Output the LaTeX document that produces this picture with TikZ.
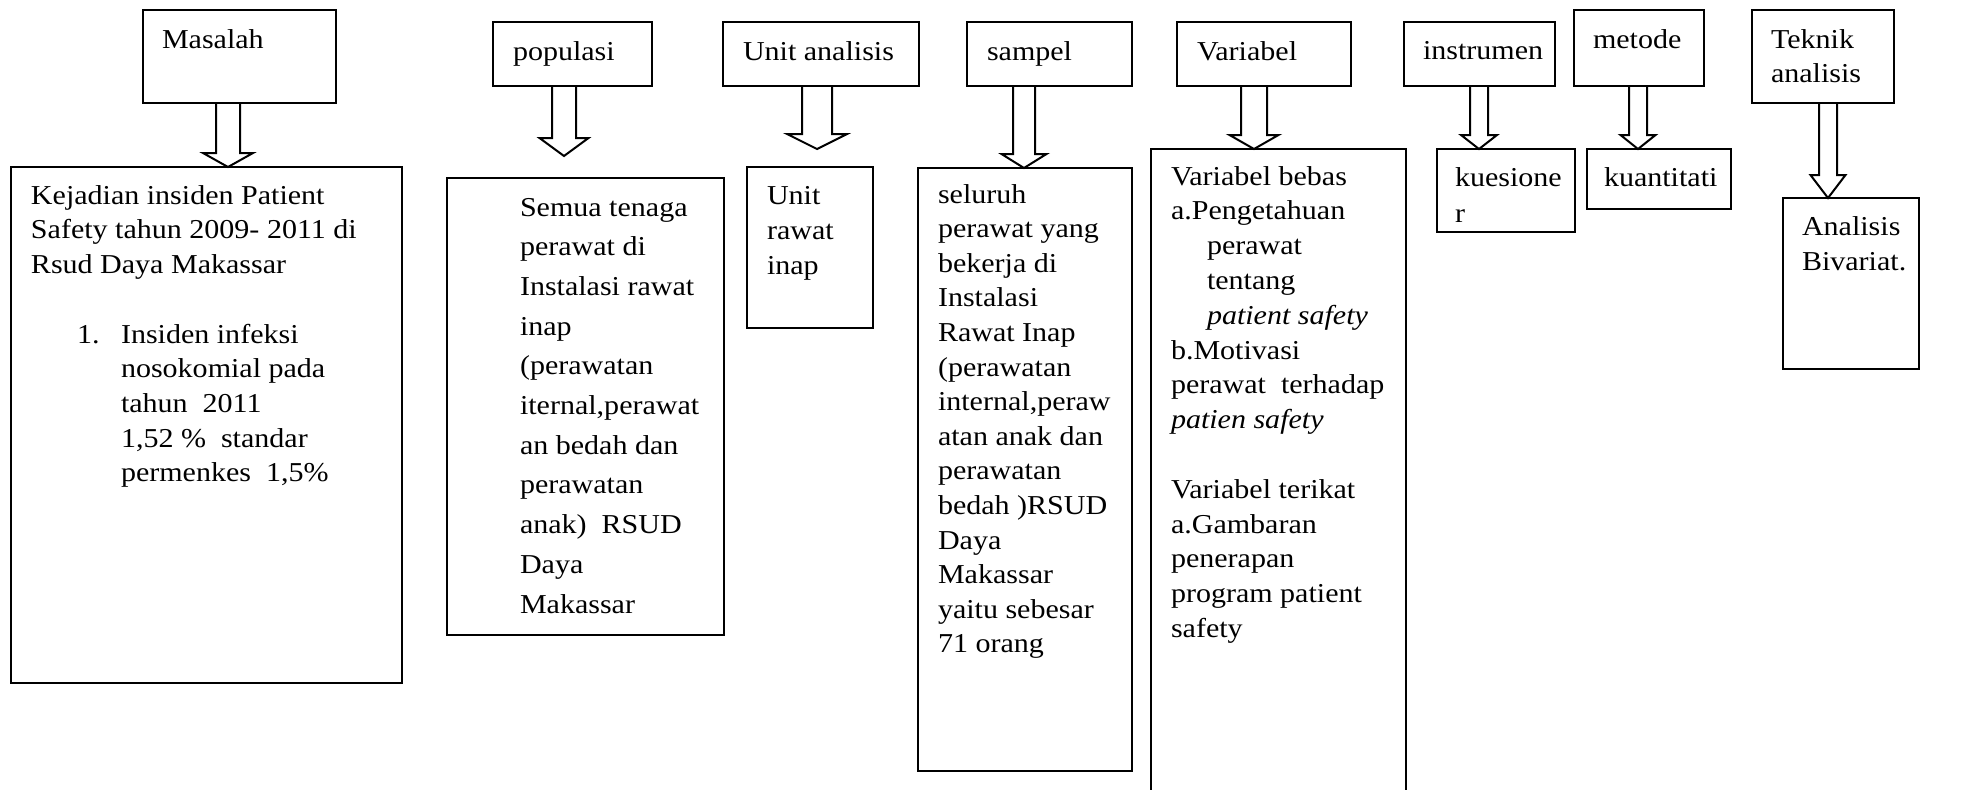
\documentclass[tikz,border=0pt]{standalone}
\usepackage{fontspec}
\setmainfont[FakeStretch=1.1]{Liberation Serif}
\usetikzlibrary{calc}
\tikzset{
  box/.style={draw=black, line width=1pt, inner sep=0pt, outer sep=0pt, anchor=north west},
  txt/.style={inner sep=0pt, outer sep=0pt, anchor=base west},
  arr/.style={draw=black, line width=1pt, line join=miter},
}
\newcommand\fs[1]{\fontsize{13.65pt}{#1}\selectfont}
\newcommand\lns[1]{\begin{tabular}[t]{@{}l@{}}#1\end{tabular}}
\newcommand\boxnode[5]{\node[box, minimum width={(#4-#2)*0.5pt}, minimum height={(#5-#3)*0.5pt}] (#1) at (#2,#3) {};}
% src, dst, x centre, shaft half width, head half width, head length, gap above dst
\newcommand\barrow[7]{%
  \pgfmathsetmacro\axl{#3-#4}\pgfmathsetmacro\axr{#3+#4}%
  \pgfmathsetmacro\ahl{#3-#5}\pgfmathsetmacro\ahr{#3+#5}%
  \pgfmathsetmacro\ahy{-(#6+#7)}\pgfmathsetmacro\aty{-(#7)}%
  \draw[arr] (\axl,0 |- #1.south) -- ($(\axl,0 |- #2.north)+(0,\ahy)$)
    -- ($(\ahl,0 |- #2.north)+(0,\ahy)$) -- ($(#3,0 |- #2.north)+(0,\aty)$)
    -- ($(\ahr,0 |- #2.north)+(0,\ahy)$) -- ($(\axr,0 |- #2.north)+(0,\ahy)$)
    -- (\axr,0 |- #1.south);}
\begin{document}
\begin{tikzpicture}[x=0.5pt,y=-0.5pt]
\useasboundingbox (0,0) rectangle (1967,789);
\clip (0,0) rectangle (1967,789);
% header boxes
\boxnode{masalah}{143}{10}{336}{103}
\boxnode{populasi}{493}{22}{652}{86}
\boxnode{unit}{723}{22}{919}{86}
\boxnode{sampel}{967}{22}{1132}{86}
\boxnode{variabel}{1177}{22}{1351}{86}
\boxnode{instrumen}{1404}{22}{1555}{86}
\boxnode{metode}{1574}{10}{1704}{86}
\boxnode{teknik}{1752}{10}{1894}{103}
% content boxes
\boxnode{kejadian}{11}{167}{402}{683}
\boxnode{popbox}{447}{178}{724}{635}
\boxnode{unitbox}{747}{167}{873}{328}
\boxnode{sampbox}{918}{168}{1132}{771}
\boxnode{varbox}{1151}{149}{1406}{810}
\boxnode{kuesbox}{1437}{149}{1575}{232}
\boxnode{kuantbox}{1587}{149}{1731}{209}
\boxnode{anabox}{1783}{198}{1919}{369}
% header texts
\node[txt, font=\fs{17pt}] (tmasalah) at (162,48) {Masalah};
\node[txt, font=\fs{17pt}] (tpopulasi) at (513,60) {populasi};
\node[txt, font=\fs{17pt}] (tunit) at (743,60) {Unit analisis};
\node[txt, font=\fs{17pt}] (tsampel) at (987,60) {sampel};
\node[txt, font=\fs{17pt}] (tvariabel) at (1197,60) {Variabel};
\node[txt, font=\fs{17pt}] (tinstrumen) at (1423,59) {instrumen};
\node[txt, font=\fs{17pt}] (tmetode) at (1593,48) {metode};
\node[txt, font=\fs{17pt}] (tteknik) at (1771,48) {\lns{Teknik\\analisis}};
% content texts
\node[txt, font=\fs{17.35pt}] (tkej) at (31,204) {\lns{Kejadian insiden Patient\\Safety tahun 2009- 2011 di\\Rsud Daya Makassar}};
\node[txt, font=\fs{17.37pt}] (tnum) at (77,343) {1.};
\node[txt, font=\fs{17.37pt}] (tlist) at (121,343) {\lns{Insiden infeksi\\nosokomial pada\\tahun\ \ 2011\\1,52 \%\ \ standar\\permenkes\ \ 1,5\%}};
\node[txt, font=\fs{19.85pt}] (tpop) at (520,216) {\lns{Semua tenaga\\perawat di\\Instalasi rawat\\inap\\(perawatan\\iternal,perawat\\an bedah dan\\perawatan\\anak)\ \ RSUD\\Daya\\Makassar}};
\node[txt, font=\fs{17.5pt}] (tunitc) at (767,204) {\lns{Unit\\rawat\\inap}};
\node[txt, font=\fs{17.3pt}] (tsamp) at (938,203) {\lns{seluruh\\perawat yang\\bekerja di\\Instalasi\\Rawat Inap\\(perawatan\\internal,peraw\\atan anak dan\\perawatan\\bedah )RSUD\\Daya\\Makassar\\yaitu sebesar\\71 orang}};
\node[txt, font=\fs{17.4pt}] (tvar) at (1171,185) {\lns{Variabel bebas\\a.Pengetahuan\\\hspace*{18pt}perawat\\\hspace*{18pt}tentang\\\hspace*{18pt}\textit{patient safety}\\b.Motivasi\\perawat\ \ terhadap\\\textit{patien safety}\\[17.4pt]Variabel terikat\\a.Gambaran\\penerapan\\program patient\\safety}};
\node[txt, font=\fs{18pt}] (tkues) at (1455,186) {\lns{kuesione\\r}};
\node[txt, font=\fs{18pt}] (tkuant) at (1604,186) {kuantitati};
\node[txt, font=\fs{17.5pt}] (tana) at (1802,235) {\lns{Analisis\\Bivariat.}};
% block arrows
\barrow{masalah}{kejadian}{228}{12}{25}{14}{0}
\barrow{populasi}{popbox}{564}{12}{24.5}{18}{22}
\barrow{unit}{unitbox}{817}{15}{30}{15}{18}
\barrow{sampel}{sampbox}{1024}{11}{22.5}{14}{0}
\barrow{variabel}{varbox}{1254}{13}{24.5}{14}{0}
\barrow{instrumen}{kuesbox}{1479}{9}{18}{14}{0}
\barrow{metode}{kuantbox}{1638}{9}{17.5}{14}{0}
\barrow{teknik}{anabox}{1828}{9}{17.5}{23}{0}
\end{tikzpicture}
\end{document}
